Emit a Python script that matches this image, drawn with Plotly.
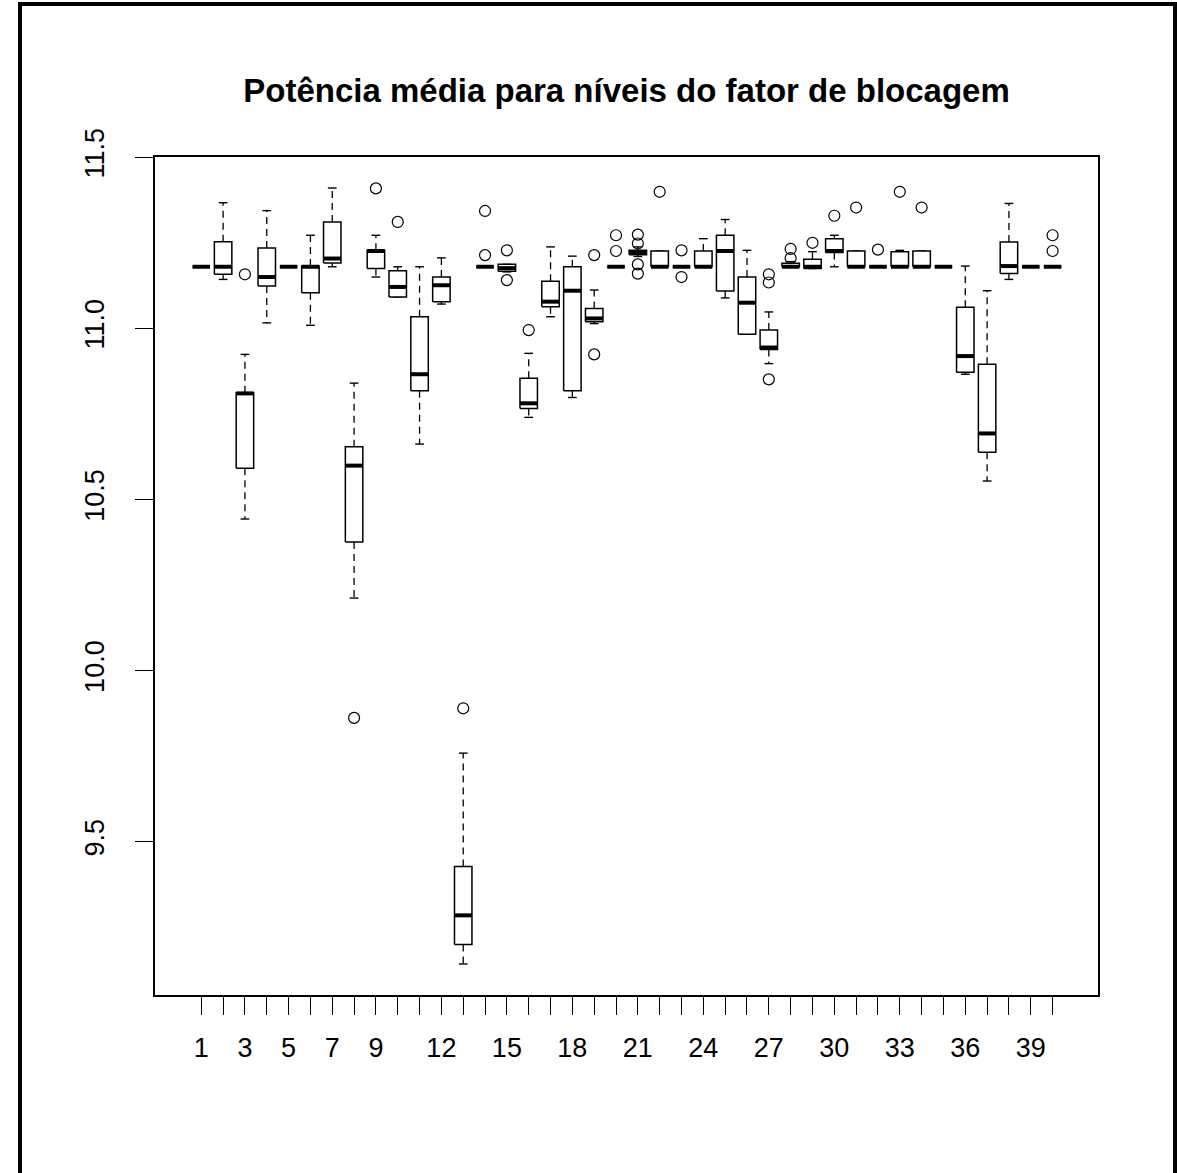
import plotly.graph_objects as go

# ---------------- data ----------------
groups = list(range(1, 41))

lower_whisker = [11.18, 11.143, 10.443, 11.016, 11.18, 11.009, 11.18, 10.212, 11.15, 11.092,
                 10.662, 11.071, 9.143, 11.18, 11.165, 10.740, 11.034, 10.798, 11.014, 11.18,
                 11.21, 11.18, 11.18, 11.18, 11.089, 10.983, 10.897, 11.18, 11.175, 11.18,
                 11.18, 11.18, 11.18, 11.18, 11.18, 10.866, 10.554, 11.143, 11.18, 11.18]
q1 = [11.18, 11.158, 10.591, 11.124, 11.18, 11.104, 11.191, 10.376, 11.175, 11.092,
      10.818, 11.078, 9.200, 11.18, 11.167, 10.766, 11.063, 10.818, 11.019, 11.18,
      11.215, 11.18, 11.18, 11.18, 11.109, 10.983, 10.938, 11.18, 11.175, 11.222,
      11.18, 11.18, 11.18, 11.18, 11.18, 10.872, 10.638, 11.16, 11.18, 11.18]
median = [11.18, 11.18, 10.810, 11.15, 11.18, 11.18, 11.204, 10.599, 11.226, 11.121,
          10.866, 11.126, 9.285, 11.18, 11.176, 10.781, 11.078, 11.11, 11.029, 11.18,
          11.222, 11.18, 11.18, 11.18, 11.226, 11.075, 10.944, 11.18, 11.18, 11.226,
          11.18, 11.18, 11.18, 11.18, 11.18, 10.919, 10.693, 11.182, 11.18, 11.18]
q3 = [11.18, 11.253, 10.812, 11.235, 11.18, 11.182, 11.311, 10.654, 11.228, 11.168,
      11.034, 11.15, 9.428, 11.18, 11.187, 10.854, 11.138, 11.18, 11.058, 11.18,
      11.228, 11.226, 11.18, 11.226, 11.272, 11.15, 10.995, 11.19, 11.202, 11.262,
      11.226, 11.18, 11.224, 11.226, 11.18, 11.062, 10.895, 11.252, 11.18, 11.18]
upper_whisker = [11.18, 11.367, 10.924, 11.344, 11.18, 11.272, 11.41, 10.84, 11.272, 11.18,
                 11.18, 11.206, 9.759, 11.18, 11.187, 10.927, 11.238, 11.211, 11.112, 11.18,
                 11.238, 11.226, 11.18, 11.262, 11.318, 11.228, 11.048, 11.195, 11.224, 11.272,
                 11.226, 11.18, 11.228, 11.226, 11.18, 11.182, 11.11, 11.365, 11.18, 11.18]

outlier_group = [3, 8, 9, 10, 13, 14, 14, 15, 15, 16, 19, 19, 20, 20,
                 21, 21, 21, 21, 22, 23, 23, 27, 27, 27, 28, 28, 29, 30,
                 31, 32, 33, 34, 40, 40]
outlier_value = [11.158, 9.862, 11.409, 11.311, 9.890, 11.343, 11.214, 11.228, 11.141, 10.995,
                 11.214, 10.924, 11.272, 11.226, 11.274, 11.248, 11.187, 11.160, 11.399, 11.228,
                 11.150, 11.158, 11.134, 10.851, 11.232, 11.205, 11.250, 11.329, 11.353, 11.230,
                 11.399, 11.353, 11.272, 11.226]

x_labels_shown = [1, 3, 5, 7, 9, 12, 15, 18, 21, 24, 27, 30, 33, 36, 39]
y_ticks = [9.5, 10.0, 10.5, 11.0, 11.5]
y_tick_text = ["9.5", "10.0", "10.5", "11.0", "11.5"]

title_text = "Potência média para níveis do fator de blocagem"

# ---------------- geometry helpers ----------------
half_box = 0.4
half_cap = 0.2

box_x, box_y = [], []
med_x, med_y = [], []
wh_x, wh_y = [], []
cap_x, cap_y = [], []
for g, lw, a, m, b, uw in zip(groups, lower_whisker, q1, median, q3, upper_whisker):
    box_x += [g - half_box, g + half_box, g + half_box, g - half_box, g - half_box, None]
    box_y += [a, a, b, b, a, None]
    med_x += [g - half_box, g + half_box, None]
    med_y += [m, m, None]
    wh_x += [g, g, None, g, g, None]
    wh_y += [b, uw, None, a, lw, None]
    cap_x += [g - half_cap, g + half_cap, None, g - half_cap, g + half_cap, None]
    cap_y += [uw, uw, None, lw, lw, None]

all_vals = lower_whisker + upper_whisker + outlier_value
lo, hi = min(all_vals), max(all_vals)
pad = 0.04 * (hi - lo)
y_range = [lo - pad, hi + pad]
x_range = [-1.12, 42.08]

fig = go.Figure()
fig.add_trace(go.Scatter(x=wh_x, y=wh_y, mode="lines",
                         line=dict(color="black", width=1.3, dash="7px,5px"),
                         hoverinfo="skip", showlegend=False))
fig.add_trace(go.Scatter(x=cap_x, y=cap_y, mode="lines",
                         line=dict(color="black", width=1.4),
                         hoverinfo="skip", showlegend=False))
fig.add_trace(go.Scatter(x=box_x, y=box_y, mode="lines", fill="toself",
                         fillcolor="white",
                         line=dict(color="black", width=1.5),
                         hoverinfo="skip", showlegend=False))
fig.add_trace(go.Scatter(x=med_x, y=med_y, mode="lines",
                         line=dict(color="black", width=4),
                         hoverinfo="skip", showlegend=False))
fig.add_trace(go.Scatter(x=outlier_group, y=outlier_value, mode="markers",
                         marker=dict(symbol="circle-open", size=11,
                                     color="black", line=dict(width=1.2, color="black")),
                         hoverinfo="skip", showlegend=False))

W, H = 1177, 1173
L, R, T, B = 155, 79, 157, 178
pw, ph = W - L - R, H - T - B

fig.update_layout(
    width=W, height=H,
    margin=dict(l=L, r=R, t=T, b=B, pad=0),
    paper_bgcolor="white", plot_bgcolor="white",
    font=dict(family="Liberation Sans, Arial, sans-serif", color="black"),
    title=dict(text="<b>" + title_text + "</b>",
               font=dict(size=33, family="Liberation Sans, Arial, sans-serif", color="black"),
               x=(L + pw / 2) / W, xanchor="center", xref="container",
               y=1 - 90 / H, yanchor="middle", yref="container"),
    xaxis=dict(range=x_range, tickmode="array", tickvals=groups,
               ticktext=[str(g) if g in x_labels_shown else "" for g in groups],
               ticks="outside", ticklen=18, tickwidth=1.2, tickcolor="black",
               showgrid=False, zeroline=False, showline=True, mirror=True,
               linecolor="black", linewidth=1.5,
               tickfont=dict(size=27, color="black"), ticklabelstandoff=10),
    yaxis=dict(range=y_range, tickmode="array", tickvals=y_ticks, ticktext=y_tick_text,
               tickangle=-90, ticks="outside", ticklen=18, tickwidth=1.2, tickcolor="black",
               showgrid=False, zeroline=False, showline=True, mirror=True,
               linecolor="black", linewidth=1.5,
               tickfont=dict(size=27, color="black"), ticklabelstandoff=20),
)

# outer frame of the image
fig.add_shape(type="rect", xref="paper", yref="paper",
              x0=(20 - L) / pw, x1=(1175 - L) / pw,
              y0=-(B + 10) / ph, y1=1 + (T - 4) / ph,
              line=dict(color="black", width=4), layer="above")

fig.write_html("out.html")
